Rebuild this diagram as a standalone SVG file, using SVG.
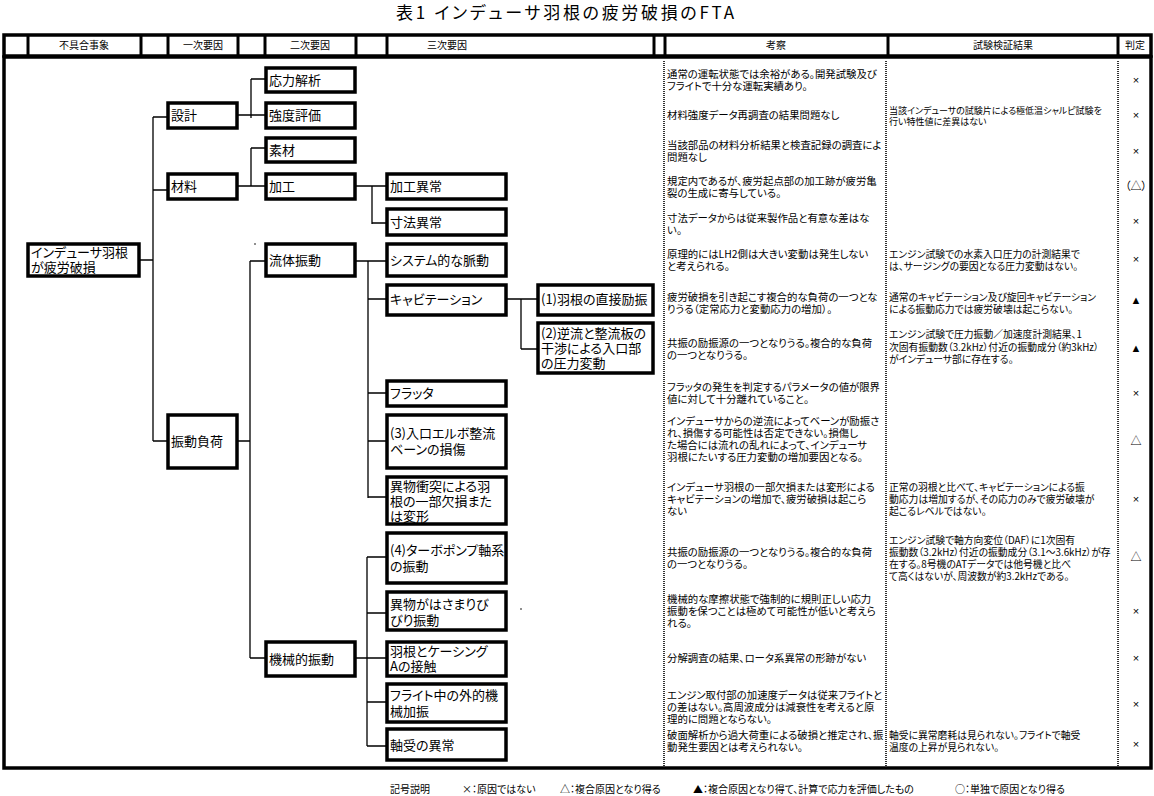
<svg xmlns="http://www.w3.org/2000/svg" width="1154" height="796" viewBox="0 0 1154 796">
<style>
text{font-family:"Noto Sans CJK JP","Noto Sans CJK SC",sans-serif;fill:#000;font-feature-settings:"palt" 1}
.box{fill:#fff;stroke:#000;stroke-width:3.5}
.frm{fill:none;stroke:#000;stroke-width:3.5}
.sep{stroke:#000;stroke-width:3}
.nt{font-size:13px}
.ht{font-size:10px;text-anchor:middle}
.bt{font-size:10.4px}
.tt{font-size:9.8px}
.t9{font-size:9px}
.jd{font-size:11px;text-anchor:middle;font-family:"Liberation Sans","Noto Sans CJK JP",sans-serif}
.lg{font-size:10px}
.cn{stroke:#000;stroke-width:1.3;fill:none}
.dl{stroke:#000;stroke-width:1.6;stroke-dasharray:1 1}
</style>
<rect width="1154" height="796" fill="#fff"/>
<text x="396" y="19" font-size="17" textLength="338" lengthAdjust="spacing">表1 インデューサ羽根の疲労破損のFTA</text>

<g id="header">
<rect class="frm" x="4" y="35" width="1147" height="21"/>
<line class="sep" x1="28" y1="35" x2="28" y2="56"/>
<line class="sep" x1="141" y1="35" x2="141" y2="56"/>
<line class="sep" x1="168" y1="35" x2="168" y2="56"/>
<line class="sep" x1="238" y1="35" x2="238" y2="56"/>
<line class="sep" x1="265" y1="35" x2="265" y2="56"/>
<line class="sep" x1="356" y1="35" x2="356" y2="56"/>
<line class="sep" x1="387" y1="35" x2="387" y2="56"/>
<line class="sep" x1="654" y1="35" x2="654" y2="56"/>
<line class="sep" x1="665" y1="35" x2="665" y2="56"/>
<line class="sep" x1="888" y1="35" x2="888" y2="56"/>
<line class="sep" x1="1118" y1="35" x2="1118" y2="56"/>
<text class="ht" x="84" y="49">不具合事象</text>
<text class="ht" x="203" y="49">一次要因</text>
<text class="ht" x="310" y="49">二次要因</text>
<text class="ht" x="447" y="49">三次要因</text>
<text class="ht" x="776" y="49">考察</text>
<text class="ht" x="1003" y="49">試験検証結果</text>
<text class="ht" x="1135" y="49">判定</text>
</g>

<g id="body-frame">
<rect class="frm" x="4" y="57" width="1147" height="711"/>
<line class="dl" x1="664" y1="61" x2="664" y2="766"/>
<line class="dl" x1="886" y1="61" x2="886" y2="766"/>
<line class="dl" x1="1118" y1="61" x2="1118" y2="766"/>
</g>

<g id="connectors">
<path class="cn" d="M139,260H153M153,117V441M153,117H168M153,190H168M153,441H168"/>
<path class="cn" d="M237,115H266M251,79V118M251,79H266"/>
<path class="cn" d="M237,186H266M251,148V186M251,148H266"/>
<path class="cn" d="M355,186H387M372,186V224M372,223H387"/>
<path class="cn" d="M237,441H250M250,261V658M250,261H266M250,658H266"/>
<path class="cn" d="M355,261H387M368,261V498M368,299H387M368,393H387M368,441H387M368,497H387"/>
<path class="cn" d="M506,299H538M521,299V349M521,349H538"/>
<path class="cn" d="M355,658H387M367,557V746M367,557H387M367,613H387M367,702H387M367,746H387"/>
<circle cx="255" cy="244" r="0.8"/>
<circle cx="521" cy="609" r="0.8"/>
</g>

<g id="n-root"><rect class="box" x="28" y="244" width="111" height="32"/><text class="nt" x="31" y="257">インデューサ羽根<tspan x="31" dy="15">が疲労破損</tspan></text></g>
<g id="n-sekkei"><rect class="box" x="168" y="103" width="69" height="25"/><text class="nt" x="171" y="120">設計</text></g>
<g id="n-zairyo"><rect class="box" x="168" y="174" width="69" height="25"/><text class="nt" x="171" y="191">材料</text></g>
<g id="n-shindo"><rect class="box" x="168" y="415" width="69" height="53"/><text class="nt" x="171" y="446">振動負荷</text></g>
<g id="n-oryoku"><rect class="box" x="266" y="68" width="89" height="24"/><text class="nt" x="269" y="85">応力解析</text></g>
<g id="n-kyodo"><rect class="box" x="266" y="103" width="89" height="25"/><text class="nt" x="269" y="120">強度評価</text></g>
<g id="n-sozai"><rect class="box" x="266" y="138" width="89" height="24"/><text class="nt" x="269" y="155">素材</text></g>
<g id="n-kako"><rect class="box" x="266" y="174" width="89" height="25"/><text class="nt" x="269" y="191">加工</text></g>
<g id="n-ryutai"><rect class="box" x="266" y="244" width="89" height="32"/><text class="nt" x="269" y="265">流体振動</text></g>
<g id="n-kikai"><rect class="box" x="266" y="642" width="89" height="34"/><text class="nt" x="269" y="664">機械的振動</text></g>
<g id="n-kakoijo"><rect class="box" x="387" y="174" width="119" height="25"/><text class="nt" x="390" y="191">加工異常</text></g>
<g id="n-sunpo"><rect class="box" x="387" y="209" width="119" height="26"/><text class="nt" x="390" y="227">寸法異常</text></g>
<g id="n-system"><rect class="box" x="387" y="244" width="119" height="32"/><text class="nt" x="390" y="265">システム的な脈動</text></g>
<g id="n-cavi"><rect class="box" x="387" y="285" width="119" height="30"/><text class="nt" x="390" y="304">キャビテーション</text></g>
<g id="n-flutter"><rect class="box" x="387" y="381" width="119" height="25"/><text class="nt" x="390" y="398">フラッタ</text></g>
<g id="n-elbow"><rect class="box" x="387" y="415" width="119" height="53"/><text class="nt" x="390" y="438">(3)入口エルボ整流<tspan x="390" dy="16">ベーンの損傷</tspan></text></g>
<g id="n-ibutsu"><rect class="box" x="387" y="477" width="119" height="47"/><text class="nt" x="390" y="491">異物衝突による羽<tspan x="390" dy="15">根の一部欠損また</tspan><tspan x="390" dy="15">は変形</tspan></text></g>
<g id="n-turbo"><rect class="box" x="387" y="533" width="119" height="50"/><text class="nt" x="390" y="555">(4)ターボポンプ軸系<tspan x="390" dy="16">の振動</tspan></text></g>
<g id="n-hasamari"><rect class="box" x="387" y="592" width="119" height="38"/><text class="nt" x="390" y="609">異物がはさまりび<tspan x="390" dy="16">びり振動</tspan></text></g>
<g id="n-casing"><rect class="box" x="387" y="642" width="119" height="34"/><text class="nt" x="390" y="656">羽根とケーシング<tspan x="390" dy="15">Aの接触</tspan></text></g>
<g id="n-flight"><rect class="box" x="387" y="684" width="119" height="38"/><text class="nt" x="390" y="700">フライト中の外的機<tspan x="390" dy="16">械加振</tspan></text></g>
<g id="n-bearing"><rect class="box" x="387" y="729" width="119" height="31"/><text class="nt" x="390" y="750">軸受の異常</text></g>
<g id="n-direct"><rect class="box" x="538" y="285" width="115" height="30"/><text class="nt" x="541" y="304">(1)羽根の直接励振</text></g>
<g id="n-gyakuryu"><rect class="box" x="538" y="323" width="115" height="50"/><text class="nt" x="541" y="338">(2)逆流と整流板の<tspan x="541" dy="15">干渉による入口部</tspan><tspan x="541" dy="15">の圧力変動</tspan></text></g>

<g id="kousatsu">
<text class="bt" x="667" y="78">通常の運転状態では余裕がある。開発試験及び<tspan x="667" dy="12">フライトで十分な運転実績あり。</tspan></text>
<text class="bt" x="667" y="119">材料強度データ再調査の結果問題なし</text>
<text class="bt" x="667" y="149">当該部品の材料分析結果と検査記録の調査によ<tspan x="667" dy="12">問題なし</tspan></text>
<text class="bt" x="667" y="185">規定内であるが、疲労起点部の加工跡が疲労亀<tspan x="667" dy="12">裂の生成に寄与している。</tspan></text>
<text class="bt" x="667" y="222">寸法データからは従来製作品と有意な差はな<tspan x="667" dy="12">い。</tspan></text>
<text class="bt" x="667" y="258">原理的にはLH2側は大きい変動は発生しない<tspan x="667" dy="12">と考えられる。</tspan></text>
<text class="bt" x="667" y="301">疲労破損を引き起こす複合的な負荷の一つとな<tspan x="667" dy="12">りうる（定常応力と変動応力の増加）。</tspan></text>
<text class="bt" x="667" y="347">共振の励振源の一つとなりうる。複合的な負荷<tspan x="667" dy="12">の一つとなりうる。</tspan></text>
<text class="bt" x="667" y="391">フラッタの発生を判定するパラメータの値が限界<tspan x="667" dy="12">値に対して十分離れていること。</tspan></text>
<text class="bt" x="667" y="425">インデューサからの逆流によってベーンが励振さ<tspan x="667" dy="12">れ、損傷する可能性は否定できない。損傷し</tspan><tspan x="667" dy="12">た場合には流れの乱れによって、インデューサ</tspan><tspan x="667" dy="12">羽根にたいする圧力変動の増加要因となる。</tspan></text>
<text class="bt" x="667" y="491">インデューサ羽根の一部欠損または変形による<tspan x="667" dy="12">キャビテーションの増加で、疲労破損は起こら</tspan><tspan x="667" dy="12">ない</tspan></text>
<text class="bt" x="667" y="556">共振の励振源の一つとなりうる。複合的な負荷<tspan x="667" dy="12">の一つとなりうる。</tspan></text>
<text class="bt" x="667" y="603">機械的な摩擦状態で強制的に規則正しい応力<tspan x="667" dy="12">振動を保つことは極めて可能性が低いと考えら</tspan><tspan x="667" dy="12">れる。</tspan></text>
<text class="bt" x="667" y="662">分解調査の結果、ロータ系異常の形跡がない</text>
<text class="bt" x="667" y="699">エンジン取付部の加速度データは従来フライトと<tspan x="667" dy="12">の差はない。高周波成分は減衰性を考えると原</tspan><tspan x="667" dy="12">理的に問題とならない。</tspan></text>
<text class="bt" x="667" y="739">破面解析から過大荷重による破損と推定され、振<tspan x="667" dy="12">動発生要因とは考えられない。</tspan></text>
</g>

<g id="shiken">
<text class="t9" x="889" y="114">当該インデューサの試験片による極低温シャルピ試験を<tspan x="889" dy="11">行い特性値に差異はない</tspan></text>
<text class="tt" x="889" y="258">エンジン試験での水素入口圧力の計測結果で<tspan x="889" dy="12">は、サージングの要因となる圧力変動はない。</tspan></text>
<text class="tt" x="889" y="301">通常のキャビテーション及び旋回キャビテーション<tspan x="889" dy="12">による振動応力では疲労破壊は起こらない。</tspan></text>
<text class="tt" x="889" y="338">エンジン試験で圧力振動／加速度計測結果、1<tspan x="889" dy="12.5">次固有振動数（3.2kHz）付近の振動成分（約3kHz）</tspan><tspan x="889" dy="12">がインデューサ部に存在する。</tspan></text>
<text class="tt" x="889" y="491">正常の羽根と比べて、キャビテーションによる振<tspan x="889" dy="12">動応力は増加するが、その応力のみで疲労破壊が</tspan><tspan x="889" dy="12">起こるレベルではない。</tspan></text>
<text class="tt" x="889" y="544">エンジン試験で軸方向変位（DAF）に1次固有<tspan x="889" dy="12">振動数（3.2kHz）付近の振動成分（3.1～3.6kHz）が存</tspan><tspan x="889" dy="12">在する。8号機のATデータでは他号機と比べ</tspan><tspan x="889" dy="12">て高くはないが、周波数が約3.2kHzである。</tspan></text>
<text class="tt" x="889" y="739">軸受に異常磨耗は見られない。フライトで軸受<tspan x="889" dy="12">温度の上昇が見られない。</tspan></text>
</g>

<g id="hantei">
<text class="jd" x="1136" y="84">×</text>
<text class="jd" x="1136" y="119">×</text>
<text class="jd" x="1136" y="155">×</text>
<text class="jd" x="1136" y="190">（△）</text>
<text class="jd" x="1136" y="225">×</text>
<text class="jd" x="1136" y="263">×</text>
<text class="jd" x="1136" y="304">▲</text>
<text class="jd" x="1136" y="352">▲</text>
<text class="jd" x="1136" y="397">×</text>
<text class="jd" x="1136" y="445">△</text>
<text class="jd" x="1136" y="503">×</text>
<text class="jd" x="1136" y="561">△</text>
<text class="jd" x="1136" y="615">×</text>
<text class="jd" x="1136" y="662">×</text>
<text class="jd" x="1136" y="708">×</text>
<text class="jd" x="1136" y="748">×</text>
</g>

<g id="legend">
<text class="lg" x="390" y="793">記号説明</text>
<text class="lg" x="462" y="793">×：原因ではない</text>
<text class="lg" x="560" y="793">△：複合原因となり得る</text>
<text class="lg" x="693" y="793">▲：複合原因となり得て、計算で応力を評価したもの</text>
<text class="lg" x="955" y="793">○：単独で原因となり得る</text>
</g>
</svg>
